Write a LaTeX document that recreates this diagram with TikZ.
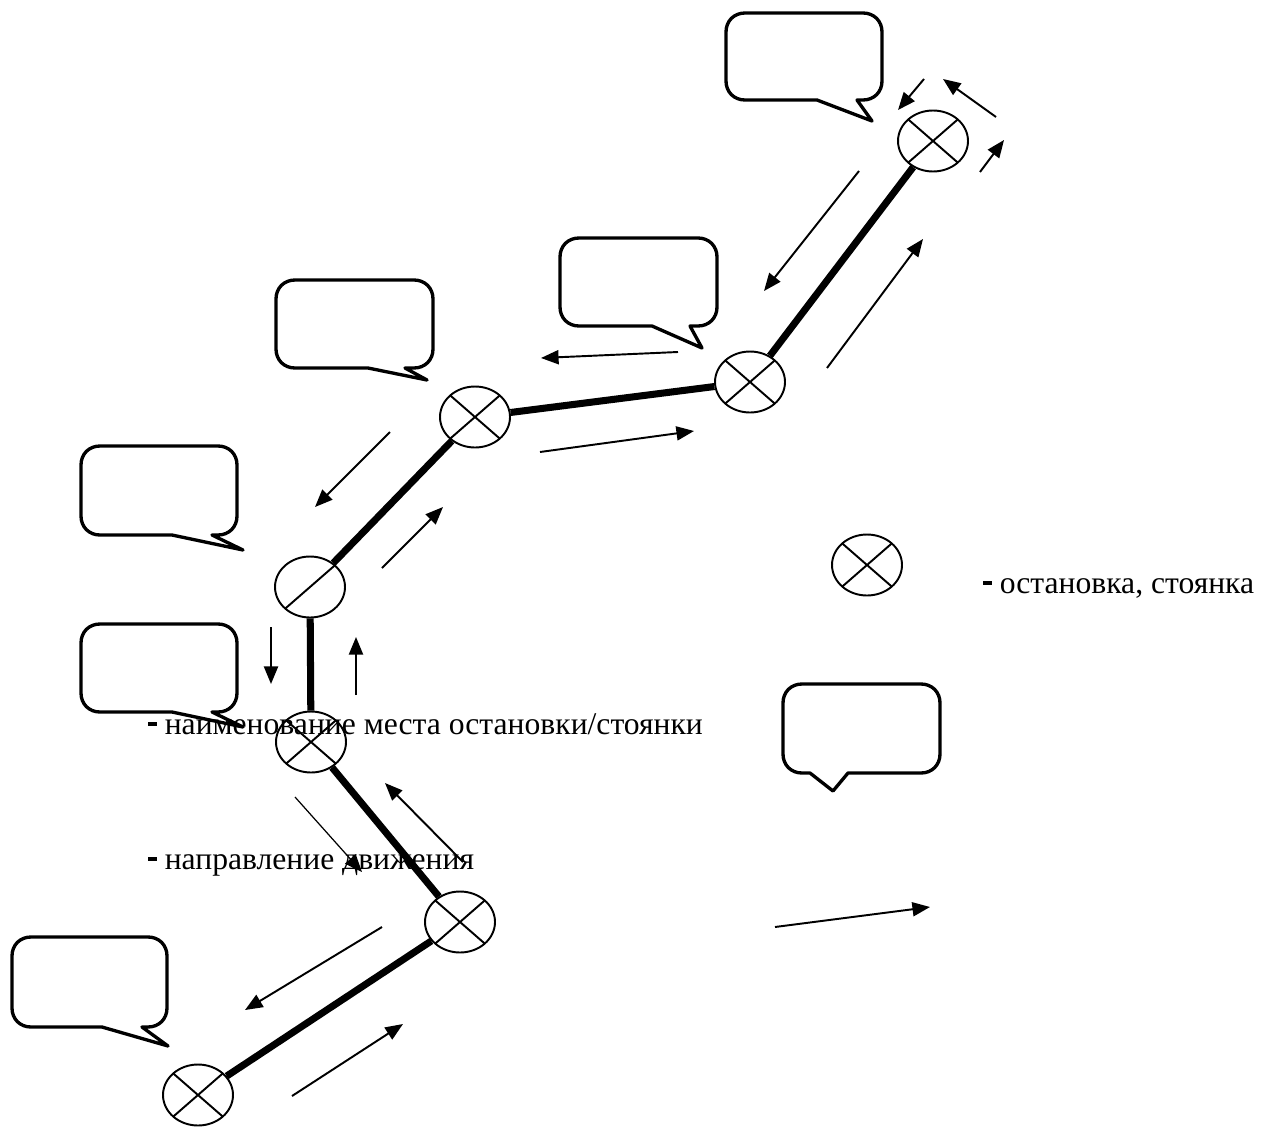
\documentclass[tikz,border=0pt]{standalone}
\usepackage{fontspec}
\setmainfont{Liberation Serif}
\usetikzlibrary{shapes.geometric,arrows.meta}
\newcommand{\speechbubble}[8]{%
  \draw[bubbleline] (#5,#4) -- (#1+19,#4) .. controls (#1+8,#4) and (#1,#4-8) .. (#1,#4-19)
    -- (#1,#2+19) .. controls (#1,#2+8) and (#1+8,#2) .. (#1+19,#2)
    -- (#3-19,#2) .. controls (#3-8,#2) and (#3,#2+8) .. (#3,#2+19)
    -- (#3,#4-19) .. controls (#3,#4-8) and (#3-8,#4) .. (#3-19,#4)
    -- (#6,#4) -- (#7,#8) -- cycle;}
\newcommand{\bdash}{\rule[0.25em]{0.27em}{0.13em}\ }
\tikzset{
  stop/.style={ellipse, draw, line width=1.1pt, minimum width=1.4cm, minimum height=1.22cm, inner sep=0pt,
    path picture={\draw[line width=1.1pt] (path picture bounding box.north west) -- (path picture bounding box.south east)
      (path picture bounding box.south west) -- (path picture bounding box.north east);}},
  halfstop/.style={ellipse, draw, line width=1.1pt, minimum width=1.4cm, minimum height=1.22cm, inner sep=0pt,
    path picture={\draw[line width=1.1pt] (path picture bounding box.south west) -- (path picture bounding box.north east);}},
  road/.style={line width=4pt},
  dir/.style={line width=1.1pt, -{Triangle[length=10pt,width=8pt]}},
  bubbleline/.style={line width=1.9pt, line join=round},
  lbl/.style={anchor=base west, inner sep=0pt, font=\fontsize{18}{22}\selectfont}
}
\begin{document}
\begin{tikzpicture}[x=0.02cm, y=-0.02cm]
\useasboundingbox (0,0) rectangle (1261,1126);
% stops
\node[stop] (s1) at (198,1095) {};
\node[stop] (s2) at (460,922) {};
\node[stop] (s3) at (311,742) {};
\node[halfstop] (s4) at (310,587) {};
\node[stop] (s5) at (475,417) {};
\node[stop] (s6) at (750,382) {};
\node[stop] (s7) at (933,141) {};
\node[stop] (leg) at (867,565) {};
% roads
\draw[road] (s1) -- (s2);
\draw[road] (s2) -- (s3);
\draw[road] (s3) -- (s4);
\draw[road] (s4) -- (s5);
\draw[road] (s5) -- (s6);
\draw[road] (s6) -- (s7);
% direction arrows
\draw[dir] (292,1096) -- (403,1024);
\draw[dir] (382,927) -- (245,1010);
\draw[dir, line width=0.7pt] (295,797) -- (362,872);
\draw[dir] (463,862) -- (385,783);
\draw[dir] (271,627) -- (271,684);
\draw[dir] (356,695) -- (356,637);
\draw[dir] (390,432) -- (315,507);
\draw[dir] (382,568) -- (443,507);
\draw[dir] (678,352) -- (541,358);
\draw[dir] (540,452) -- (694,431);
\draw[dir] (859,171) -- (764,291);
\draw[dir] (827,368) -- (923,239);
\draw[dir] (924,79) -- (898,110);
\draw[dir] (996,117) -- (943,79);
\draw[dir] (980,172) -- (1004,140);
\draw[dir] (775,927) -- (930,907);
% speech bubbles
\speechbubble{726}{13}{882}{100}{817}{857}{872}{121}
\speechbubble{560}{238}{717}{326}{652}{690}{702}{348}
\speechbubble{276}{280}{433}{368}{368}{405}{427}{380}
\speechbubble{81}{446}{237}{535}{172}{212}{243}{550}
\speechbubble{81}{624}{237}{712}{172}{212}{243}{727}
\speechbubble{12}{937}{167}{1027}{102}{142}{168}{1046}
\speechbubble{783}{684}{940}{773}{810}{848}{833}{791}
% legend texts
\node[lbl] (t1) at (148,734) {\bdash наименование места остановки/стоянки};
\node[lbl] (t2) at (148,869) {\bdash направление движения};
\node[lbl] (t3) at (983,593) {\bdash остановка, стоянка};
\end{tikzpicture}
\end{document}
